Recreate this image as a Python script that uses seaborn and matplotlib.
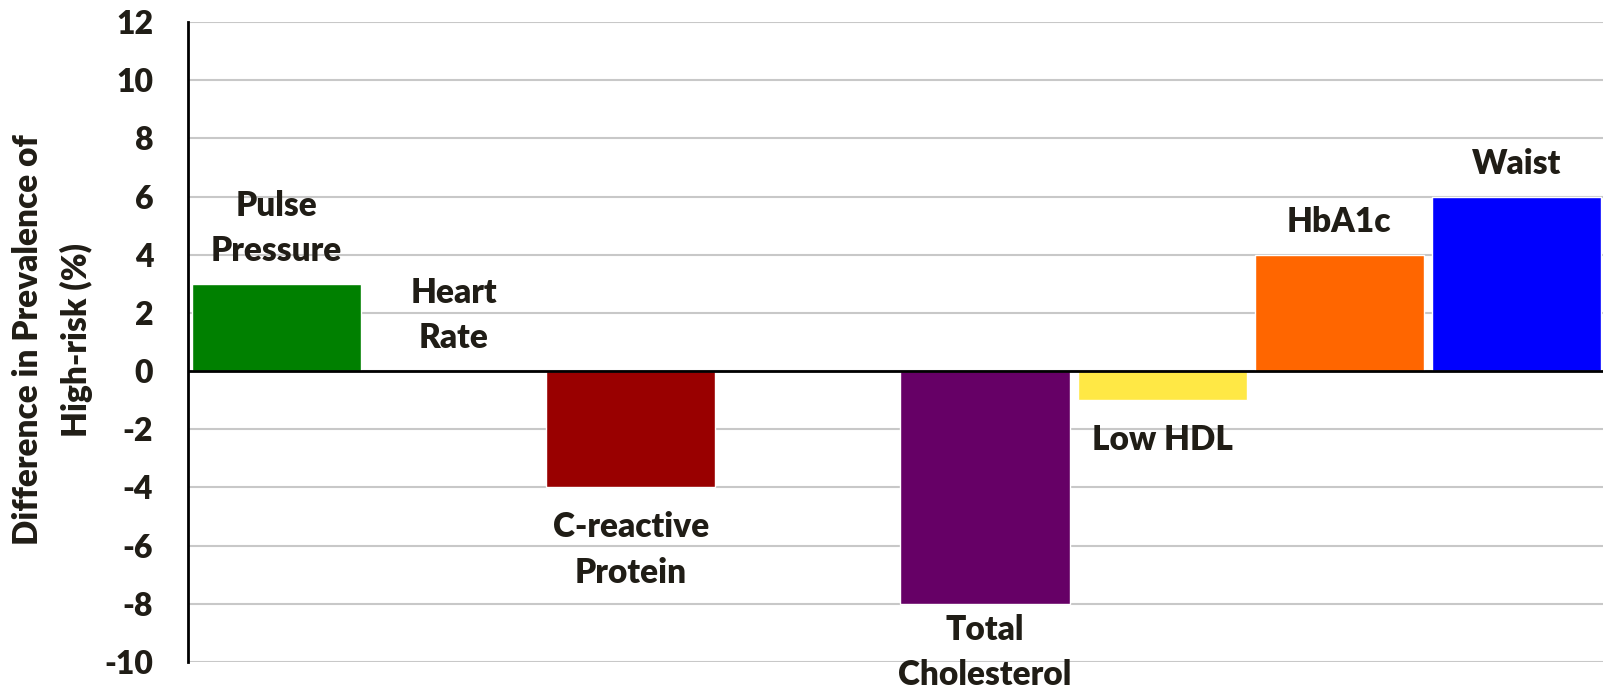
import matplotlib
matplotlib.use("Agg")
import matplotlib.pyplot as plt
import seaborn as sns
import pandas as pd

categories = ["Pulse\nPressure", "Heart\nRate", "C-reactive\nProtein", "",
              "Total\nCholesterol", "Low HDL", "HbA1c", "Waist"]
values = [3, 0, -4, 0, -8, -1, 4, 6]
colors = ["#008000", "#808080", "#990000", "#808080",
          "#660066", "#FFE845", "#FF6600", "#0000FF"]
yticks = [-10, -8, -6, -4, -2, 0, 2, 4, 6, 8, 10, 12]
ylabel = "Difference in Prevalence of\nHigh-risk (%)"

sns.set_theme(style="white")
FONT = ["Lato", "DejaVu Sans"]
plt.rcParams["font.family"] = FONT
TXT = "#201d16"
W = "heavy"

df = pd.DataFrame({"cat": [str(i) for i in range(len(categories))],
                   "val": values})

fig = plt.figure(figsize=(16.03, 6.88), dpi=100)
ax = fig.add_axes([188 / 1603, 1 - 662 / 688, (1605 - 188) / 1603, (662 - 22) / 688])

sns.barplot(data=df, x="cat", y="val", hue="cat", palette=colors,
            legend=False, width=0.955, saturation=1, ax=ax, zorder=3)

ax.set_ylim(-10, 12)
ax.set_xlim(-0.5, len(categories) - 0.5)
ax.set_yticks(yticks)
ax.set_yticklabels([str(t) for t in yticks], fontsize=23, fontweight=W, color=TXT)
ax.set_xticks([])
ax.set_xlabel("")
ax.set_ylabel(ylabel, fontsize=24, fontweight=W, color=TXT, linespacing=1.58,
              ha="center", va="center")
ax.yaxis.set_label_coords(-0.0955, 0.503)
ax.tick_params(axis="y", length=0, pad=25)

ax.yaxis.grid(True, color="#c8c8c8", linewidth=1.5, zorder=0)
ax.set_axisbelow(True)
for s in ["top", "right", "bottom"]:
    ax.spines[s].set_visible(False)
ax.spines["left"].set_color("black")
ax.spines["left"].set_linewidth(2)
ax.axhline(0, color="black", linewidth=2, zorder=4)

for i, (name, v) in enumerate(zip(categories, values)):
    if not name:
        continue
    if v >= 0:
        off, va = 12, "bottom"
    else:
        off, va = (-17 if v > -6 else -7), "top"
    ax.annotate(name, xy=(i, v), xytext=(0, off), textcoords="offset points",
                ha="center", va=va, fontsize=24, fontweight=W, color=TXT,
                linespacing=1.52, annotation_clip=False, zorder=5)

fig.savefig("out.png", dpi=100)
